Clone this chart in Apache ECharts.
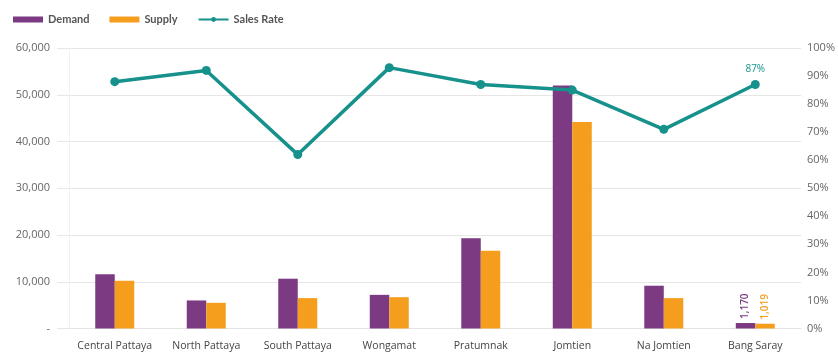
<!DOCTYPE html>
<html>
<head>
<meta charset="utf-8">
<title>Demand, Supply and Sales Rate by Area</title>
<script src="https://cdn.jsdelivr.net/npm/echarts@6/dist/echarts.min.js"></script>
<style>
  html, body { margin: 0; padding: 0; background: #ffffff; }
  #chart { width: 838px; height: 354px; }
</style>
</head>
<body>
<div id="chart"></div>
<script>
// Areas along the x axis
const areas = ['Central Pattaya', 'North Pattaya', 'South Pattaya', 'Wongamat', 'Pratumnak', 'Jomtien', 'Na Jomtien', 'Bang Saray'];

// Units demanded and supplied per area
const demand = [11600, 6000, 10650, 7200, 19300, 52000, 9150, 1170];
const supply = [10200, 5500, 6500, 6700, 16650, 44150, 6500, 1019];

// Sales rate per area (fraction)
const salesRate = [0.88, 0.92, 0.62, 0.93, 0.87, 0.85, 0.71, 0.87];

// Axis ranges
const leftAxis = { min: 0, max: 60000, interval: 10000 };
const rightAxis = { min: 0, max: 1, interval: 0.1 };

// Only the last area carries value labels
const labelledIndex = areas.length - 1;

const PURPLE = '#7B3A82';
const ORANGE = '#F59E1E';
const TEAL = '#16918C';
const FONT = '"Open Sans", Lato, sans-serif';
const LEGEND_FONT = 'Lato, "Noto Sans", sans-serif';

function fmtThousands(v) {
  return v === 0 ? '-' : v.toLocaleString('en-US');
}

function barData(values, color) {
  return values.map((v, i) => {
    if (i !== labelledIndex) return v;
    return {
      value: v,
      label: {
        show: true,
        position: 'top',
        rotate: 90,
        align: 'left',
        verticalAlign: 'middle',
        distance: 4,
        color: color,
        fontSize: 10,
        fontWeight: 600,
        fontFamily: FONT,
        formatter: p => p.value.toLocaleString('en-US')
      }
    };
  });
}

const rateData = salesRate.map((v, i) => {
  if (i !== labelledIndex) return v;
  return {
    value: v,
    label: {
      show: true,
      position: 'top',
      distance: 6,
      color: TEAL,
      fontSize: 10,
      fontFamily: FONT,
      formatter: p => Math.round(p.value * 100) + '%'
    }
  };
});

const chart = echarts.init(document.getElementById('chart'), null, { renderer: 'canvas' });

chart.setOption({
  animation: false,
  backgroundColor: '#ffffff',
  textStyle: { fontFamily: FONT },
  legend: {
    left: 8,
    top: 9,
    itemWidth: 30,
    itemHeight: 6,
    itemGap: 20,
    textStyle: { color: '#555555', fontSize: 11, fontWeight: 'bold', fontFamily: LEGEND_FONT },
    data: [
      { name: 'Demand', icon: 'rect' },
      { name: 'Supply', icon: 'rect' },
      { name: 'Sales Rate' }
    ]
  },
  grid: { left: 69, right: 32, top: 48, bottom: 25.5, containLabel: false },
  xAxis: {
    type: 'category',
    data: areas,
    axisTick: { show: false },
    axisLine: { show: true, lineStyle: { color: '#e3e3e3', width: 1 } },
    axisLabel: { color: '#444444', fontSize: 10.5, margin: 12, fontFamily: FONT, interval: 0 },
    splitLine: { show: false }
  },
  yAxis: [
    {
      type: 'value',
      min: leftAxis.min,
      max: leftAxis.max,
      interval: leftAxis.interval,
      axisLine: { show: true, lineStyle: { color: '#f1f1f1' } },
      axisTick: { show: true, length: 12, lineStyle: { color: '#e6e6e6' } },
      axisLabel: { color: '#666666', fontSize: 11, margin: 19, fontFamily: FONT, formatter: fmtThousands },
      splitLine: { show: true, lineStyle: { color: '#e6e6e6', width: 1 } }
    },
    {
      type: 'value',
      min: rightAxis.min,
      max: rightAxis.max,
      interval: rightAxis.interval,
      position: 'right',
      axisLine: { show: false },
      axisTick: { show: false },
      axisLabel: { color: '#666666', fontSize: 11, margin: 6, fontFamily: FONT, formatter: v => Math.round(v * 100) + '%' },
      splitLine: { show: false }
    }
  ],
  series: [
    {
      name: 'Demand',
      type: 'bar',
      yAxisIndex: 0,
      barWidth: 19.5,
      barGap: '0%',
      itemStyle: { color: PURPLE },
      data: barData(demand, PURPLE)
    },
    {
      name: 'Supply',
      type: 'bar',
      yAxisIndex: 0,
      barWidth: 19.5,
      barGap: '0%',
      itemStyle: { color: ORANGE },
      data: barData(supply, ORANGE)
    },
    {
      name: 'Sales Rate',
      type: 'line',
      yAxisIndex: 1,
      symbol: 'circle',
      symbolSize: 9,
      z: 5,
      lineStyle: { color: TEAL, width: 3.5 },
      itemStyle: { color: TEAL },
      data: rateData
    }
  ]
});
</script>
</body>
</html>
